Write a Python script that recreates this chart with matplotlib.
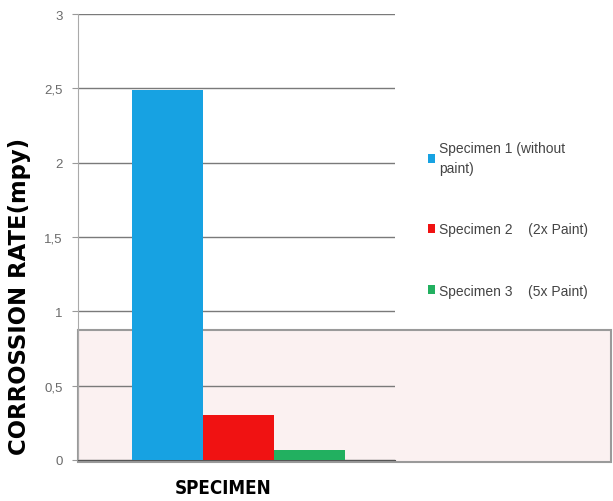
import matplotlib.pyplot as plt
from matplotlib.patches import Rectangle

# data
specimens = ['Specimen 1 (without\npaint)', 'Specimen 2    (2x Paint)', 'Specimen 3    (5x Paint)']
rates = [2.49, 0.30, 0.07]
colors = ['#17a2e2', '#f01212', '#22b060']
yticks = [0, 0.5, 1, 1.5, 2, 2.5, 3]
ytick_labels = ['0', '0,5', '1', '1,5', '2', '2,5', '3']

fig = plt.figure(figsize=(6.13, 5.02), dpi=100)
ax = fig.add_axes([78 / 613, 1 - 461 / 502, 317 / 613, 446 / 502])
ax.patch.set_alpha(0)

# pale highlight box behind the lower part of the chart
fig.patches.append(Rectangle((78 / 613, 1 - 463 / 502), 533 / 613, 132 / 502,
                             transform=fig.transFigure, facecolor='#fbf1f1',
                             edgecolor='#9a9a9a', linewidth=1.5, zorder=-1))

offsets = [-1, 0, 1]
for off, val, col, lab in zip(offsets, rates, colors, specimens):
    ax.bar(off, val, width=1.0, color=col, label=lab, zorder=3)

ax.set_xlim(-2.26, 2.2)
ax.set_ylim(0, 3)
ax.set_yticks(yticks)
ax.set_yticklabels(ytick_labels, color='#6a6a6a', fontsize=9.5, family='Liberation Sans')
ax.set_xticks([])
ax.tick_params(axis='y', length=4, color='#999999', pad=7)
ax.yaxis.grid(True, color='#7a7a7a', linewidth=1)
ax.set_axisbelow(True)
for s in ['top', 'right']:
    ax.spines[s].set_visible(False)
ax.spines['left'].set_color('#aaaaaa')
ax.spines['bottom'].set_color('#555555')

ax.set_ylabel('CORROSSION RATE(mpy)', fontsize=16.4, fontweight='bold', family='DejaVu Sans')
ax.yaxis.set_label_coords(-(78 - 31) / 317, 0.368)
ax.set_xlabel('SPECIMEN', fontsize=13.5, fontweight='bold', family='DejaVu Sans',
              fontstretch='condensed')
ax.xaxis.set_label_coords((223 - 78) / 317, -0.04)

leg = ax.legend(loc='upper left', bbox_to_anchor=(415 / 613, 1 - 129 / 502),
                bbox_transform=fig.transFigure, frameon=False, fontsize=10,
                handlelength=0.55, handleheight=0.55, handletextpad=0.3,
                labelspacing=3.4)
for t in leg.get_texts():
    t.set_color('#444444')
    t.set_family('Liberation Sans')
    t.set_linespacing(1.6)

fig.savefig('out.png', dpi=100)
